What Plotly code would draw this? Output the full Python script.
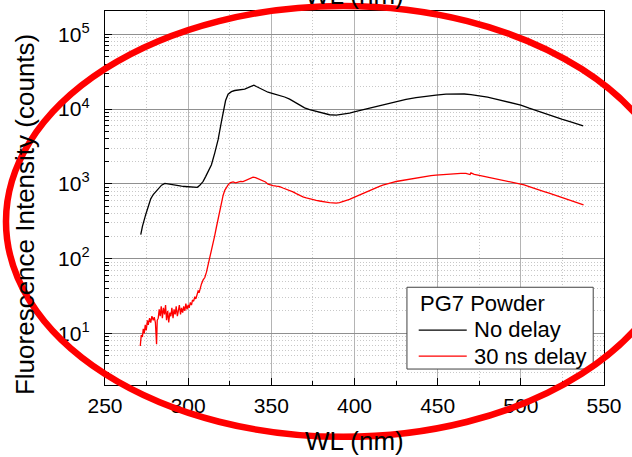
import plotly.graph_objects as go

# PG7 powder fluorescence spectra: wavelength (nm) and counts
wl_nodelay = [271.5, 272.5, 274.5, 276, 277.5, 279, 280.5, 282, 284, 286, 288, 290, 292, 294,
              296, 298, 300, 302, 304, 305.5, 307, 309, 310.5, 312, 314, 316, 318, 320,
              321.5, 322.5, 324, 326, 328, 330, 332, 334, 336, 338, 339.5, 341, 343, 345.5,
              348, 351, 355, 358, 361, 364, 367, 370, 373, 377, 381, 385, 389, 393, 397,
              401, 406, 411, 416, 421, 426, 431, 437, 443, 449, 455, 461, 466, 470, 475,
              480, 485, 490, 495, 500, 505, 510, 515, 520, 525, 530, 534, 537.5]
cnt_nodelay = [210, 270, 390, 500, 630, 720, 780, 850, 960, 1015, 995, 970, 955, 945,
               930, 922, 915, 905, 892, 900, 955, 1080, 1250, 1450, 1800, 2600, 3900, 6800,
               10500, 13000, 15800, 17100, 17700, 18000, 18200, 18500, 19300, 20500, 20900, 20000, 19000, 17800,
               16800, 16100, 15300, 14500, 13600, 12400, 11200, 10400, 9800, 9250, 8750, 8400, 8300, 8500, 8850,
               9300, 9900, 10600, 11400, 12100, 12900, 13500, 14200, 14900, 15400, 15800, 16000, 15900, 15600, 15100,
               14400, 13600, 12800, 12000, 11300, 10300, 9400, 8600, 7900, 7300, 6750, 6300, 5950]

wl_delay = [271.2, 271.8, 272.5, 273.0, 273.6, 274.2, 274.8, 275.5, 276.0, 276.8, 277.5, 278.2,
            279.0, 279.6, 280.3, 281.0, 281.4, 282.0, 282.6, 283.2, 283.8, 284.5, 285.1, 285.8,
            286.4, 287.0, 287.7, 288.3, 289.0, 289.6, 290.2, 290.9, 291.5, 292.2, 292.8, 293.5,
            294.1, 294.7, 295.4, 296.0, 296.7, 297.3, 298.0, 298.6, 299.3, 300.0, 300.6, 301.3,
            302.0, 302.6, 303.3, 304.0, 304.6, 305.3, 306.0, 306.7, 307.4, 308.0, 309.0, 310.0,
            311.0, 312.0, 313.0, 314.0, 315.0, 316.0, 317.0, 318.0, 319.0, 320.0, 321.0, 322.0,
            323.0, 324.0, 325.5, 327.0, 328.5, 330.0, 331.5, 333.0, 334.5, 336.0, 337.5, 339.0,
            340.5, 342.0, 343.5, 345.0, 346.5, 348.0, 349.5, 351.0, 353.0, 355.0, 357.0, 359.0,
            361.0, 363.0, 365.0, 367.0, 369.0, 371.0, 373.0, 375.0, 377.0, 379.0, 381.0, 383.0,
            385.0, 387.0, 389.0, 391.0, 393.0, 395.0, 397.0, 399.0, 401.0, 403.0, 405.0, 407.0,
            409.0, 411.0, 413.0, 415.0, 417.0, 419.0, 421.0, 423.0, 425.0, 427.0, 429.0, 431.0,
            433.0, 435.0, 437.0, 440.0, 443.0, 446.0, 449.0, 452.0, 455.0, 458.0, 461.0, 464.0,
            467.0, 469.5, 470.0, 472.0, 475.0, 478.0, 481.0, 484.0, 487.0, 490.0, 493.0, 496.0,
            499.0, 502.0, 505.0, 508.0, 511.0, 514.0, 517.0, 520.0, 523.0, 526.0, 529.0, 532.0,
            535.0, 537.7]
cnt_delay = [6.8, 9.5, 9.0, 11.5, 10.0, 13.0, 11.0, 15.0, 13.0, 16.0, 14.0, 17.0,
             15.0, 16.5, 14.0, 7.2, 15.0, 16.0, 21.0, 17.0, 23.0, 16.0, 22.0, 18.0,
             24.0, 15.0, 20.0, 14.0, 19.0, 17.0, 22.0, 16.0, 21.0, 18.0, 23.0, 17.0,
             20.0, 24.0, 18.0, 22.0, 19.0, 23.0, 20.0, 25.0, 21.0, 24.0, 22.0, 26.0,
             24.0, 28.0, 27.0, 31.0, 29.0, 34.0, 37.0, 36.0, 42.0, 46.0, 52.0, 56.0,
             66.0, 82.0, 100.0, 125.0, 160.0, 205.0, 265.0, 340.0, 430.0, 560.0, 700.0, 820.0,
             900.0, 970.0, 1040.0, 1060.0, 1030.0, 1050.0, 1080.0, 1070.0, 1110.0, 1150.0, 1190.0, 1230.0,
             1210.0, 1170.0, 1130.0, 1110.0, 1060.0, 990.0, 960.0, 950.0, 930.0, 920.0, 880.0, 850.0,
             820.0, 780.0, 740.0, 700.0, 670.0, 650.0, 630.0, 610.0, 600.0, 590.0, 585.0, 570.0,
             560.0, 552.0, 552.0, 560.0, 575.0, 595.0, 620.0, 650.0, 680.0, 715.0, 750.0, 785.0,
             820.0, 855.0, 890.0, 925.0, 960.0, 995.0, 1025.0, 1050.0, 1075.0, 1095.0, 1115.0, 1135.0,
             1155.0, 1175.0, 1195.0, 1230.0, 1260.0, 1290.0, 1310.0, 1330.0, 1350.0, 1370.0, 1380.0, 1385.0,
             1380.0, 1330.0, 1400.0, 1340.0, 1300.0, 1260.0, 1220.0, 1180.0, 1140.0, 1110.0, 1080.0, 1050.0,
             1010.0, 970.0, 920.0, 880.0, 830.0, 790.0, 750.0, 710.0, 680.0, 640.0, 610.0, 580.0,
             550.0, 525.0]

x_ticks = [250, 300, 350, 400, 450, 500, 550]
y_ticks = [1e1, 1e2, 1e3, 1e4, 1e5]
y_ticktext = ["10<sup>1</sup>", "10<sup>2</sup>", "10<sup>3</sup>", "10<sup>4</sup>", "10<sup>5</sup>"]
series_names = ["No delay", "30 ns delay"]
series_colors = ["black", "#ff0000"]
legend_title = "PG7 Powder"
x_title = "WL (nm)"
y_title = "Fluorescence Intensity (counts)"

FONT = "Arial, Liberation Sans, sans-serif"

# plot frame in pixels, used to place paper-referenced decorations
L, R, T, B = 105, 614, 10, 385


def px_x(px):
    return (px - L) / (R - L)


def px_y(py):
    return (B - py) / (B - T)


fig = go.Figure()
fig.add_trace(go.Scatter(x=wl_nodelay, y=cnt_nodelay, mode="lines", name=series_names[0],
                         line=dict(color=series_colors[0], width=1.3)))
fig.add_trace(go.Scatter(x=wl_delay, y=cnt_delay, mode="lines", name=series_names[1],
                         line=dict(color=series_colors[1], width=1.3)))

axis_common = dict(
    showline=True, linecolor="black", linewidth=1.3, mirror=True,
    ticks="inside", ticklen=7, tickwidth=1.2, tickcolor="black",
    tickfont=dict(family=FONT, size=21, color="black"),
    zeroline=False,
)

fig.update_xaxes(
    range=[250, 550], tickvals=x_ticks, ticktext=[str(v) for v in x_ticks],
    showgrid=True, gridcolor="#b4b4b4", gridwidth=1.4,
    minor=dict(dtick=25, tick0=250, ticks="inside", ticklen=4, tickwidth=1, tickcolor="black",
               showgrid=True, gridcolor="#c8c8c8", griddash="1px,2px", gridwidth=1),
    ticklabelstandoff=2,
    **axis_common,
)
fig.update_yaxes(
    type="log", range=[0.311, 5.311], tickvals=y_ticks, ticktext=y_ticktext,
    showgrid=True, gridcolor="#909090", gridwidth=1,
    minor=dict(dtick="D1", ticks="inside", ticklen=4, tickwidth=1, tickcolor="black",
               showgrid=True, gridcolor="#c8c8c8", griddash="1px,2px", gridwidth=1),
    ticklabelstandoff=10,
    **axis_common,
)

title_font = dict(family=FONT, size=26, color="black")
legend_font = dict(family=FONT, size=22, color="black")

annotations = [
    dict(text=y_title, textangle=-90, xref="paper", yref="paper", x=px_x(24), y=px_y(214),
         xanchor="center", yanchor="middle", showarrow=False, font=title_font),
    dict(text=x_title, xref="paper", yref="paper", x=0.5, y=px_y(441),
         xanchor="center", yanchor="middle", showarrow=False, font=title_font),
    # mirrored axis title above the frame
    dict(text=x_title, xref="paper", yref="paper", x=0.5, y=px_y(-6),
         xanchor="center", yanchor="middle", showarrow=False, font=title_font),
    # legend texts
    dict(text=legend_title, xref="paper", yref="paper", x=px_x(424), y=px_y(303),
         xanchor="left", yanchor="middle", showarrow=False, font=legend_font),
    dict(text=series_names[0], xref="paper", yref="paper", x=px_x(479), y=px_y(329.5),
         xanchor="left", yanchor="middle", showarrow=False, font=legend_font),
    dict(text=series_names[1], xref="paper", yref="paper", x=px_x(479), y=px_y(356),
         xanchor="left", yanchor="middle", showarrow=False, font=legend_font),
]

shapes = [
    # legend frame and line samples
    dict(type="rect", xref="paper", yref="paper",
         x0=px_x(413), x1=px_x(603), y0=px_y(369), y1=px_y(287),
         fillcolor="white", line=dict(color="#404040", width=1), layer="above"),
    dict(type="line", xref="paper", yref="paper",
         x0=px_x(425), x1=px_x(474), y0=px_y(330), y1=px_y(330),
         line=dict(color=series_colors[0], width=1.3), layer="above"),
    dict(type="line", xref="paper", yref="paper",
         x0=px_x(425), x1=px_x(474), y0=px_y(356), y1=px_y(356),
         line=dict(color=series_colors[1], width=1.3), layer="above"),
    # red highlight ellipse
    dict(type="circle", xref="paper", yref="paper",
         x0=px_x(4), x1=px_x(692), y0=px_y(437), y1=px_y(5),
         line=dict(color="#ff0000", width=6.5), layer="above"),
]

fig.update_layout(
    width=632, height=457, autosize=False,
    margin=dict(l=L, r=632 - R, t=T, b=457 - B),
    paper_bgcolor="white", plot_bgcolor="white",
    font=dict(family=FONT, size=21, color="black"),
    showlegend=False,
    annotations=annotations,
    shapes=shapes,
)

fig.write_html("out.html")
